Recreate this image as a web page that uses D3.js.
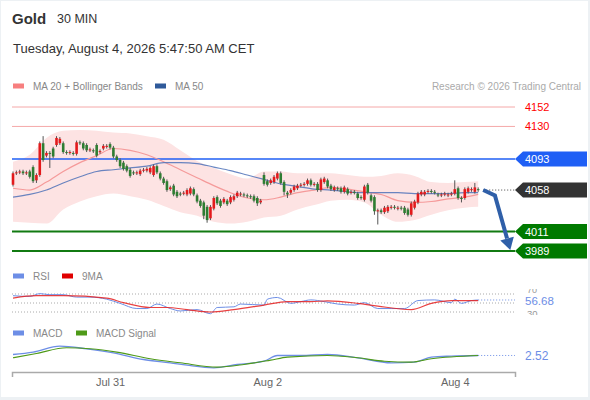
<!DOCTYPE html>
<html>
<head>
<meta charset="utf-8">
<script src="https://cdn.jsdelivr.net/npm/d3@7"></script>
<style>
body { margin: 0; background: #fff; }
#chart { width: 590px; height: 400px; }
svg { display: block; font-family: "Liberation Sans", Arial, sans-serif; }
</style>
</head>
<body>
<div id="chart"></div>
<script>
//Colores fijos
const COLOR_UP = '#e31a1c',
    COLOR_DOWN = '#2e7d32',
    COLOR_WICK = '#555555',
    COLOR_BAND = '#fde3e3',
    COLOR_MA20 = '#f59a9a',
    COLOR_MA50 = '#4f72b8',
    COLOR_RES = '#f5a8a8',
    COLOR_PIVOT = '#1f5ff5',
    COLOR_SUP = '#0a8a0a',
    COLOR_ARROW = '#2f5fa8',
    COLOR_RSI = '#6d8ee6',
    COLOR_RSI_MA = '#e52020',
    COLOR_SIGNAL = '#4e9a18';

///Datos: velas de 30 min
const opens = [4064,4077,4078,4079,4077,4079,4084,4069,4075,4111,
    4097,4100,4105,4109,4111,4111,4101,4100,4100,4099,
    4112,4111,4109,4103,4103,4109,4101,4105,4107,4110,
    4106,4096,4092,4089,4085,4081,
    4078,4077,4076,4080,4080,4078,4075,4085,4077,4071,
    4068,4059,4063,4056,4054,4054,4053,4054,4059,4052,
    4046,4044,4039,4026,4037,4050,4046,4044,4046,4044,
    4047,4051,4053,4053,4052,
    4051,4051,4049,4044,4075,4068,4066,4067,4071,4077,
    4067,4055,4055,4058,4060,4063,4064,4065,4069,4064,
    4065,4058,4067,4069,4063,4058,4060,4060,4056,4059,
    4055,4056,4054,4050,4047,
    4064,4052,4050,4034,4035,4033,4034,4038,4039,4037,
    4038,4038,4036,4030,4038,4044,4053,4053,4056,4057,
    4056,4053,4052,4053,4052,4053,4054,4060,4049,4049,
    4056,4058,4056,4059];
const closes = [4077,4078,4079,4077,4078,4073,4068,4075,4111,4092,
    4100,4099,4096,4117,4116,4101,4100,4101,4099,4112,
    4111,4105,4103,4104,4102,4097,4102,4108,4108,4106,
    4096,4092,4085,4082,4080,4074,
    4077,4078,4080,4081,4082,4083,4085,4078,4071,4066,
    4058,4061,4053,4051,4053,4055,4058,4060,4053,4045,
    4040,4029,4024,4039,4049,4043,4040,4048,4042,4050,
    4051,4055,4054,4052,4051,
    4050,4046,4043,4046,4065,4064,4069,4073,4077,4066,
    4056,4053,4058,4062,4063,4064,4065,4069,4064,4065,
    4058,4070,4071,4062,4059,4061,4059,4056,4061,4054,
    4056,4055,4049,4049,4062,
    4055,4046,4034,4035,4033,4038,4039,4039,4038,4038,
    4037,4032,4030,4043,4045,4054,4056,4056,4057,4056,
    4055,4052,4053,4054,4053,4054,4059,4049,4048,4059,
    4060,4059,4061,4058];
const highs = [4079,4080,4081,4081,4080,4081,4086,4077,4113,4119,
    4102,4102,4107,4119,4118,4113,4103,4103,4102,4114,
    4114,4113,4111,4106,4105,4111,4104,4110,4110,4112,
    4108,4098,4094,4091,4087,4083,
    4080,4080,4082,4083,4084,4085,4087,4087,4079,4073,
    4070,4063,4065,4058,4056,4057,4060,4062,4061,4054,
    4048,4046,4041,4041,4051,4052,4048,4050,4048,4052,
    4053,4057,4056,4055,4054,
    4053,4053,4051,4048,4078,4070,4071,4075,4079,4079,
    4069,4057,4060,4064,4065,4066,4067,4071,4071,4067,
    4067,4072,4073,4071,4065,4063,4062,4062,4063,4061,
    4058,4058,4056,4052,4064,
    4066,4054,4052,4037,4037,4040,4041,4041,4041,4040,
    4040,4040,4038,4045,4047,4056,4058,4058,4059,4059,
    4058,4055,4055,4056,4055,4056,4069,4062,4051,4061,
    4062,4061,4066,4061];
const lows = [4062,4075,4076,4075,4075,4071,4066,4066,4073,4090,
    4095,4083,4094,4107,4109,4099,4098,4098,4097,4097,
    4109,4103,4101,4101,4100,4095,4099,4103,4105,4104,
    4094,4090,4083,4080,4078,4072,
    4075,4075,4074,4078,4078,4076,4073,4076,4069,4064,
    4056,4057,4051,4049,4051,4052,4051,4052,4051,4043,
    4038,4025,4021,4024,4035,4041,4038,4042,4040,4042,
    4045,4049,4051,4050,4049,
    4048,4044,4040,4042,4063,4062,4064,4065,4069,4064,
    4052,4049,4053,4056,4058,4061,4062,4063,4062,4062,
    4056,4056,4065,4060,4057,4056,4057,4054,4054,4052,
    4053,4053,4047,4047,4045,
    4053,4044,4030,4019,4031,4031,4032,4036,4036,4035,
    4035,4030,4028,4028,4036,4042,4051,4051,4054,4054,
    4053,4050,4050,4051,4050,4051,4052,4047,4044,4047,
    4054,4056,4054,4056];

///Medias y bandas leídas cada 5 velas
const lineIdx = [0,5,10,15,20,25,30,35,40,45,50,55,60,65,70,75,80,85,90,95,100,105,110,115,120,125,130,135,139];
const bandUpper = [4090,4098,4117,4125,4126,4125,4123,4122,4119,4115,4103,4091,4083,4076,4071,4079,4079,4077,4077,4077,4075,4073,4074,4077,4074,4067,4066,4067,4068];
const bandLower = [4022,4021,4020,4036,4045,4051,4054,4051,4047,4040,4033,4029,4022,4020,4022,4027,4029,4036,4041,4046,4047,4044,4030,4022,4024,4030,4035,4038,4039];
const ma20 = [4060,4058,4067,4079,4089,4097,4105,4103,4098,4090,4081,4072,4063,4055,4049,4047,4050,4055,4058,4061,4059,4056,4053,4046,4044,4045,4048,4050,4053];
const ma50 = [4050,4053,4058,4066,4073,4079,4081,4083,4085,4089,4089,4088,4084,4080,4075,4070,4065,4062,4059,4058,4056,4055,4055,4055,4054,4054,4054,4055,4055];

///Niveles
const resistances = [4152, 4130];
const pivot = 4093;
const lastPrice = 4058;
const supports = [4011, 3989];
const arrowIdx = [140.5, 144, 148.6];
const arrowPrice = [4058, 4052, 3990];

///RSI
const rsiIdx = [0,5,8,11,15,19,23,28,32,37,40,43,47,50,55,59,61,66,68,75,76,79,83,86,89,93,97,102,105,109,113,117,121,126,131,132,134,137,139];
const rsiVals = [66.2,64.6,70.8,68.5,68.5,63.1,63.1,58.5,49.2,37.7,37.7,47.7,37.7,32.3,35.4,26.2,40,41.5,47.7,45.4,58.5,62.3,49.2,53.1,56.9,53.1,47.7,45.4,50.8,37.7,37.7,37.7,55.4,56.9,50.8,58.5,49.2,55.4,56.68];
const rsiMaIdx = [0,7,15,28,33,41,46,52,59,66,75,82,89,94,103,109,119,125,131,139];
const rsiMaVals = [60.8,66.2,66.2,60.8,50.8,40,40,35.4,30,35.4,45.4,53.1,53.1,54.6,49.2,43.1,35.4,49.2,55.4,55.4];
const rsiLevels = [70, 50, 30];

///MACD
const macdIdx = [0,6,14,22,30,39,47,52,60,67,75,79,86,94,103,113,120,125,131,139];
const macdVals = [3.5,5.9,11.9,9.2,5.2,-1.5,-4.8,-7.2,-9.8,-6.5,-3.2,2.5,2.5,3.5,0.2,-4.8,-4.1,0.9,1.9,2.52];
const signalIdx = [0,7,16,23,31,41,50,61,69,77,82,94,103,111,119,125,139];
const signalVals = [0.2,4.5,10.2,9.2,5.9,-0.8,-4.8,-9.1,-6.5,-2.1,0.9,2.5,0.2,-3.2,-4.1,-0.8,2.5];

///Eje temporal
const tickIdx = [29, 76, 132];
const tickLabels = ['Jul 31', 'Aug 2', 'Aug 4'];

let width = 590, height = 400;

let svg = d3.select('#chart')
    .append('svg')
    .attr('width', width)
    .attr('height', height);

//Marco
svg.append('rect').attr('width', width).attr('height', height).attr('fill', '#edf1f4');
svg.append('rect').attr('x', 1).attr('y', 1).attr('width', width - 3).attr('height', height - 4).attr('fill', '#fff');

//Cabecera
svg.append('text').attr('x', 12).attr('y', 24).attr('font-size', 15).attr('font-weight', 'bold').attr('fill', '#333').text('Gold');
svg.append('text').attr('x', 57).attr('y', 23).attr('font-size', 12.5).attr('fill', '#333').text('30 MIN');
svg.append('text').attr('x', 13).attr('y', 53).attr('font-size', 13).attr('fill', '#333').text('Tuesday, August 4, 2026 5:47:50 AM CET');

//Leyenda principal
function legendItem(xPos, yPos, color, label) {
    svg.append('rect').attr('x', xPos).attr('y', yPos - 2.5).attr('width', 11).attr('height', 5).attr('fill', color);
    svg.append('text').attr('x', xPos + 20).attr('y', yPos + 3.5).attr('font-size', 10).attr('fill', '#888').text(label);
}
legendItem(13, 86, '#f77f7f', 'MA 20 + Bollinger Bands');
legendItem(155, 86, '#2f5a9a', 'MA 50');
svg.append('text').attr('x', 581).attr('y', 89.5).attr('text-anchor', 'end').attr('font-size', 10).attr('fill', '#aaa').text('Research \u00a9 2026 Trading Central');

let x = d3.scaleLinear().domain([-0.3, 150]).range([12, 515]);
let y = d3.scaleLinear().domain([3989, 4152]).range([251, 107]);

//Bandas de Bollinger
let band = d3.area()
    .x(function(d, i) { return x(lineIdx[i]); })
    .y0(function(d, i) { return y(bandLower[i]); })
    .y1(function(d) { return y(d); })
    .curve(d3.curveMonotoneX);
svg.append('path').datum(bandUpper).attr('d', band).attr('fill', COLOR_BAND);

//Niveles horizontales
resistances.forEach(function(r) {
    svg.append('line').attr('x1', 12).attr('x2', 515).attr('y1', y(r)).attr('y2', y(r)).attr('stroke', COLOR_RES).attr('stroke-width', 1);
    svg.append('text').attr('x', 525).attr('y', y(r) + 4).attr('font-size', 11).attr('fill', '#ff0000').text(r);
});
svg.append('line').attr('x1', 12).attr('x2', 515).attr('y1', y(pivot)).attr('y2', y(pivot)).attr('stroke', COLOR_PIVOT).attr('stroke-width', 1.5);
supports.forEach(function(s) {
    svg.append('line').attr('x1', 12).attr('x2', 515).attr('y1', y(s)).attr('y2', y(s)).attr('stroke', '#117a11').attr('stroke-width', 2);
});

//Medias
let maLine = d3.line()
    .x(function(d, i) { return x(lineIdx[i]); })
    .y(function(d) { return y(d); })
    .curve(d3.curveMonotoneX);
svg.append('path').datum(ma20).attr('d', maLine).attr('fill', 'none').attr('stroke', COLOR_MA20).attr('stroke-width', 1.2);
svg.append('path').datum(ma50).attr('d', maLine).attr('fill', 'none').attr('stroke', COLOR_MA50).attr('stroke-width', 1.2).attr('opacity', 0.85);

//Velas
let candles = svg.append('g')
    .selectAll('g')
    .data(d3.range(opens.length))
    .enter()
    .append('g');

candles.append('line')
    .attr('x1', function(i) { return x(i); })
    .attr('x2', function(i) { return x(i); })
    .attr('y1', function(i) { return y(highs[i]); })
    .attr('y2', function(i) { return y(lows[i]); })
    .attr('stroke', COLOR_WICK)
    .attr('stroke-width', 1);

candles.append('rect')
    .attr('x', function(i) { return x(i) - 1.3; })
    .attr('width', 2.6)
    .attr('y', function(i) { return y(Math.max(opens[i], closes[i])); })
    .attr('height', function(i) { return Math.max(1, Math.abs(y(opens[i]) - y(closes[i]))); })
    .attr('fill', function(i) {
        if (closes[i] > opens[i]) return COLOR_UP;
        if (closes[i] < opens[i]) return COLOR_DOWN;
        return COLOR_WICK;
    });

//Último precio
svg.append('line').attr('x1', x(arrowIdx[0])).attr('x2', 515).attr('y1', y(lastPrice)).attr('y2', y(lastPrice))
    .attr('stroke', '#444').attr('stroke-width', 1).attr('stroke-dasharray', '1,2');

//Flecha
let arrowPts = arrowIdx.map(function(d, i) { return [x(d), y(arrowPrice[i])]; });
let tip = arrowPts[arrowPts.length - 1], prev = arrowPts[arrowPts.length - 2];
let dx = tip[0] - prev[0], dy = tip[1] - prev[1], len = Math.sqrt(dx * dx + dy * dy);
let ux = dx / len, uy = dy / len, headL = 12, headW = 7;
let base = [tip[0] - ux * headL, tip[1] - uy * headL];
let shaft = arrowPts.slice(0, -1).concat([base]);
svg.append('path').attr('d', d3.line()(shaft)).attr('fill', 'none').attr('stroke', COLOR_ARROW).attr('stroke-width', 4).attr('stroke-linejoin', 'miter');
svg.append('path')
    .attr('d', 'M' + tip[0] + ',' + tip[1] + 'L' + (base[0] - uy * headW) + ',' + (base[1] + ux * headW) + 'L' + (base[0] + uy * headW) + ',' + (base[1] - ux * headW) + 'Z')
    .attr('fill', COLOR_ARROW);

//Etiquetas a la derecha
function priceTag(value, color) {
    let yy = y(value);
    svg.append('path')
        .attr('d', 'M515,' + yy + 'L523,' + (yy - 7.5) + 'L587,' + (yy - 7.5) + 'L587,' + (yy + 7.5) + 'L523,' + (yy + 7.5) + 'Z')
        .attr('fill', color);
    svg.append('text').attr('x', 525).attr('y', yy + 4).attr('font-size', 11).attr('fill', '#fff').text(value);
}
priceTag(pivot, COLOR_PIVOT);
priceTag(lastPrice, '#333');
supports.forEach(function(s) { priceTag(s, '#007a00'); });

//////
///// RSI
//////
legendItem(13, 276, COLOR_RSI, 'RSI');
legendItem(62, 276, '#e00000', '9MA');

let yRsi = d3.scaleLinear().domain([30, 70]).range([312, 294]);

rsiLevels.forEach(function(l) {
    svg.append('line').attr('x1', 12).attr('x2', 515).attr('y1', yRsi(l)).attr('y2', yRsi(l))
        .attr('stroke', '#aaa').attr('stroke-width', 1).attr('stroke-dasharray', '1,2');
});

svg.append('clipPath').attr('id', 'rsiclip').append('rect').attr('x', 515).attr('y', 289).attr('width', 60).attr('height', 26);
let rsiLabels = svg.append('g').attr('clip-path', 'url(#rsiclip)');
rsiLabels.append('text').attr('x', 527).attr('y', yRsi(70) - 1.5).attr('font-size', 9).attr('fill', '#999').text('70');
rsiLabels.append('text').attr('x', 527).attr('y', yRsi(30) + 5).attr('font-size', 9.5).attr('fill', '#999').text('30');

let rsiLine = d3.line()
    .x(function(d) { return x(d[0]); })
    .y(function(d) { return yRsi(d[1]); })
    .curve(d3.curveMonotoneX);
svg.append('path').datum(rsiIdx.map(function(d, i) { return [d, rsiVals[i]]; }))
    .attr('d', rsiLine).attr('fill', 'none').attr('stroke', COLOR_RSI).attr('stroke-width', 1);
svg.append('path').datum(rsiMaIdx.map(function(d, i) { return [d, rsiMaVals[i]]; }))
    .attr('d', rsiLine).attr('fill', 'none').attr('stroke', COLOR_RSI_MA).attr('stroke-width', 1.2).attr('opacity', 0.85);

let rsiLast = rsiVals[rsiVals.length - 1];
svg.append('line').attr('x1', x(rsiIdx[rsiIdx.length - 1])).attr('x2', 515).attr('y1', yRsi(rsiLast)).attr('y2', yRsi(rsiLast))
    .attr('stroke', COLOR_RSI).attr('stroke-dasharray', '1,2');
svg.append('text').attr('x', 525).attr('y', yRsi(rsiLast) + 5).attr('font-size', 11.5).attr('fill', COLOR_RSI).text(rsiLast.toFixed(2));

//////
///// MACD
//////
legendItem(13, 333, COLOR_RSI, 'MACD');
legendItem(76, 333, COLOR_SIGNAL, 'MACD Signal');

let yMacd = d3.scaleLinear().domain([-12, 14]).range([370, 344]);
let macdLine = d3.line()
    .x(function(d) { return x(d[0]); })
    .y(function(d) { return yMacd(d[1]); })
    .curve(d3.curveMonotoneX);
svg.append('path').datum(macdIdx.map(function(d, i) { return [d, macdVals[i]]; }))
    .attr('d', macdLine).attr('fill', 'none').attr('stroke', COLOR_RSI).attr('stroke-width', 1.3);
svg.append('path').datum(signalIdx.map(function(d, i) { return [d, signalVals[i]]; }))
    .attr('d', macdLine).attr('fill', 'none').attr('stroke', COLOR_SIGNAL).attr('stroke-width', 1.1);

let macdLast = macdVals[macdVals.length - 1];
svg.append('line').attr('x1', x(macdIdx[macdIdx.length - 1])).attr('x2', 515).attr('y1', yMacd(macdLast)).attr('y2', yMacd(macdLast))
    .attr('stroke', COLOR_RSI).attr('stroke-dasharray', '1,2');
svg.append('text').attr('x', 525).attr('y', yMacd(macdLast) + 4.5).attr('font-size', 12).attr('fill', COLOR_RSI).text(macdLast.toFixed(2));

//Eje X
let xAxis = d3.axisBottom(x)
    .tickValues(tickIdx)
    .tickFormat(function(d, i) { return tickLabels[i]; })
    .tickSizeInner(0)
    .tickSizeOuter(5)
    .tickPadding(6);

let gx = svg.append('g')
    .attr('transform', 'translate(0,372)')
    .call(xAxis);
gx.select('.domain').attr('stroke', '#aaa').attr('stroke-width', 1.5);
gx.selectAll('text').attr('font-size', 11).attr('fill', '#666').attr('font-family', '"Liberation Sans", Arial, sans-serif');
</script>
</body>
</html>
